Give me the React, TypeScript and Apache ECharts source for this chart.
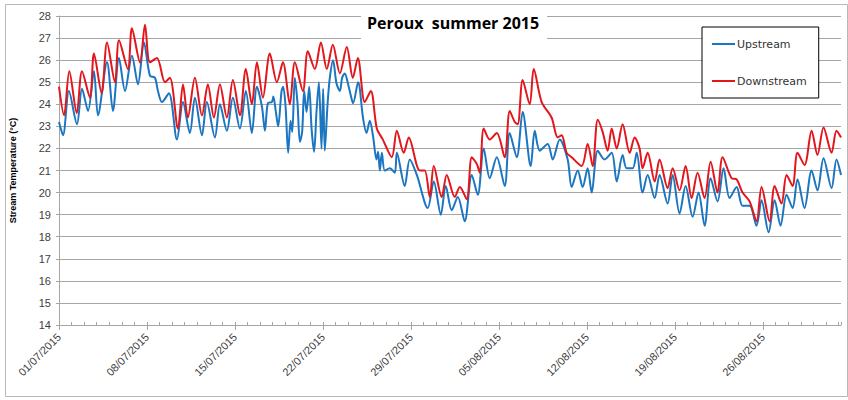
import React, { useEffect, useRef } from "react";
import * as echarts from "echarts";

// Days since 01/07/2015 00:00, temperature in °C
const upstream: [number, number][] = [
  [0.0, 23.2], [0.32, 22.6], [0.79, 24.6], [1.43, 23.1], [1.83, 24.7], [2.31, 23.7], [2.78, 25.5], [3.1, 23.5],
  [3.82, 25.9], [4.29, 23.7], [4.77, 26.1], [5.25, 24.6], [5.8, 26.2], [6.28, 24.9], [6.76, 26.8], [7.23, 25.3],
  [7.63, 25.2], [7.87, 24.6], [8.19, 24.1], [8.74, 24.5], [9.38, 22.4], [9.86, 24.1], [10.41, 22.7], [10.81, 24.3],
  [11.37, 22.6], [11.76, 24.1], [12.4, 22.5], [12.8, 24.0], [13.35, 22.8], [13.83, 24.3], [14.39, 22.9], [14.86, 24.6],
  [15.34, 22.7], [15.74, 24.8], [16.14, 23.9], [16.38, 22.8], [16.61, 24.05], [16.93, 24.1], [17.05, 24.35], [17.25, 23.65],
  [17.43, 23.0], [17.7, 24.6], [17.83, 24.8], [18.02, 23.9], [18.23, 21.8], [18.42, 23.25], [18.55, 22.75], [18.76, 25.2],
  [18.97, 24.05], [19.16, 22.3], [19.34, 22.75], [19.5, 24.6], [19.69, 23.65], [19.9, 24.8], [20.09, 22.9], [20.29, 21.85],
  [20.48, 23.65], [20.67, 25.0], [20.88, 22.0], [21.01, 24.7], [21.14, 21.9], [21.36, 24.0], [21.54, 25.2], [21.8, 26.0],
  [22.07, 24.95], [22.34, 24.6], [22.52, 25.2], [22.73, 25.4], [23.0, 24.9], [23.21, 24.4], [23.39, 24.05], [23.79, 25.0],
  [24.19, 23.35], [24.46, 22.7], [24.72, 23.25], [24.98, 22.55], [25.25, 21.5], [25.38, 21.85], [25.52, 21.0], [25.68, 21.8],
  [25.91, 21.0], [26.31, 21.1], [26.71, 20.9], [26.87, 21.8], [27.5, 20.3], [27.9, 21.5], [28.46, 20.8], [29.33, 19.3],
  [29.81, 20.5], [30.37, 19.0], [30.76, 20.3], [31.24, 19.2], [31.72, 19.8], [32.27, 18.7], [32.83, 20.8], [33.31, 19.9],
  [33.78, 22.0], [34.26, 20.65], [34.82, 21.6], [35.45, 20.3], [35.85, 22.7], [36.41, 21.6], [36.88, 23.65], [37.52, 21.2],
  [37.84, 22.8], [38.24, 21.9], [38.87, 22.2], [39.27, 21.5], [39.83, 22.4], [40.46, 21.5], [40.78, 20.25], [41.26, 21.0],
  [41.65, 20.25], [42.05, 21.1], [42.37, 20.0], [42.85, 21.9], [43.4, 21.5], [43.96, 21.8], [44.36, 20.5], [44.83, 21.7],
  [45.15, 21.1], [45.63, 21.1], [45.95, 21.8], [46.42, 20.0], [46.82, 20.8], [47.38, 19.75], [47.77, 20.8], [48.41, 19.5],
  [48.81, 20.8], [49.36, 19.05], [49.84, 20.3], [50.4, 18.9], [50.87, 20.0], [51.35, 18.5], [51.83, 20.65], [52.38, 19.6],
  [52.86, 21.1], [53.34, 19.75], [53.9, 20.25], [54.37, 19.4], [54.93, 19.4], [55.48, 18.5], [55.88, 19.65], [56.44, 18.2],
  [56.92, 19.65], [57.39, 18.5], [57.87, 19.9], [58.35, 19.3], [58.74, 20.6], [59.3, 19.3], [59.86, 21.0], [60.33, 20.1],
  [60.81, 21.55], [61.45, 20.2], [61.84, 21.5], [62.2, 20.8],
];

const downstream: [number, number][] = [
  [0.0, 24.8], [0.4, 23.5], [0.82, 25.5], [1.41, 23.6], [1.83, 25.5], [2.46, 24.3], [2.78, 26.3], [3.39, 24.5],
  [3.82, 26.8], [4.45, 25.0], [4.77, 26.9], [5.48, 25.6], [5.8, 27.45], [6.44, 25.9], [6.84, 27.6], [7.23, 25.9],
  [7.79, 26.1], [8.43, 25.0], [8.82, 25.2], [9.46, 22.9], [9.86, 24.9], [10.25, 23.4], [10.81, 25.2], [11.37, 23.5],
  [11.84, 24.9], [12.32, 23.4], [12.8, 24.9], [13.35, 23.4], [13.83, 25.1], [14.39, 23.5], [14.86, 25.6], [15.34, 24.0],
  [15.74, 25.9], [16.22, 24.3], [16.77, 26.3], [17.33, 25.0], [17.81, 25.9], [18.36, 24.0], [18.76, 25.9], [19.4, 24.6],
  [19.79, 26.4], [20.35, 25.6], [20.83, 26.8], [21.3, 25.6], [21.78, 26.7], [22.34, 25.4], [22.89, 26.6], [23.37, 25.2],
  [23.77, 26.1], [24.32, 24.1], [24.8, 24.6], [25.28, 22.9], [25.76, 22.4], [26.47, 21.6], [26.87, 22.8], [27.42, 21.8],
  [27.82, 22.5], [28.7, 21.0], [29.09, 21.0], [29.49, 19.8], [29.81, 21.2], [30.44, 19.8], [30.84, 20.8], [31.48, 19.8],
  [31.88, 20.25], [32.43, 19.7], [32.83, 21.6], [33.23, 21.3], [33.47, 20.9], [33.78, 22.9], [34.26, 22.4], [34.82, 22.7],
  [35.45, 21.6], [35.85, 23.7], [36.25, 23.2], [36.49, 23.1], [36.88, 25.1], [37.44, 24.0], [37.76, 25.6], [38.39, 24.1],
  [39.18, 23.4], [39.67, 22.5], [39.98, 22.6], [40.38, 21.8], [40.78, 21.6], [41.57, 21.2], [42.05, 22.2], [42.45, 21.2],
  [42.85, 23.3], [43.24, 22.75], [43.64, 21.9], [43.96, 22.9], [44.36, 22.0], [44.83, 23.1], [45.39, 21.8], [45.79, 22.5],
  [46.18, 22.0], [46.42, 21.1], [46.82, 21.8], [47.38, 20.5], [47.77, 21.5], [48.41, 20.2], [48.81, 21.1], [49.36, 20.1],
  [49.84, 21.2], [50.32, 19.75], [50.79, 20.9], [51.35, 19.75], [51.83, 21.4], [52.38, 20.0], [52.78, 21.6], [53.5, 20.65],
  [53.9, 20.6], [54.37, 20.0], [54.93, 19.6], [55.48, 18.7], [55.88, 20.25], [56.52, 18.7], [56.92, 20.3], [57.47, 19.5],
  [57.87, 20.8], [58.35, 20.3], [58.74, 21.8], [59.3, 21.25], [59.86, 22.8], [60.33, 21.7], [60.81, 22.95], [61.45, 21.8],
  [61.84, 22.8], [62.2, 22.5],
];

const dateTickLabels = [
  "01/07/2015", "08/07/2015", "15/07/2015", "22/07/2015", "29/07/2015",
  "05/08/2015", "12/08/2015", "19/08/2015", "26/08/2015",
];

const seriesNames = ["Upstream", "Downstream"];
const titleText = "Peroux  summer 2015";
const yAxisTitle = "Stream Temperature (°C)";

export default function App() {
  const ref = useRef<HTMLDivElement>(null);

  useEffect(() => {
    if (!ref.current) return;
    const chart = echarts.init(ref.current, null, { renderer: "svg" });
    const gray = "#a6a6a6";
    chart.setOption({
      animation: false,
      backgroundColor: "#ffffff",
      title: {
        text: titleText,
        left: 361,
        top: 9,
        padding: [6, 8, 8, 6],
        backgroundColor: "#ffffff",
        textStyle: {
          fontFamily: "Open Sans",
          fontWeight: "bold",
          fontSize: 16,
          color: "#000000",
        },
      },
      legend: {
        orient: "vertical",
        left: 702,
        top: 27,
        backgroundColor: "#ffffff",
        borderColor: "#000000",
        borderWidth: 1,
        padding: [10, 12, 10, 10],
        itemGap: 23,
        itemWidth: 23,
        itemHeight: 2,
        icon: "rect",
        data: seriesNames,
        textStyle: {
          fontFamily: "DejaVu Sans",
          fontSize: 11,
          lineHeight: 14,
          color: "#333333",
          padding: [0, 0, 0, -3],
        },
      },
      graphic: [
        {
          type: "rect",
          silent: true,
          z: -10,
          shape: { x: 5.5, y: 4.5, width: 842, height: 392 },
          style: { fill: "none", stroke: "#b8b8b8", lineWidth: 1 },
        },
      ],
      grid: { left: 59, right: 7, top: 16, bottom: 75, containLabel: false },
      xAxis: [
        {
          type: "value",
          min: 0,
          max: 62.2,
          interval: 7,
          position: "bottom",
          axisLine: { show: true, lineStyle: { color: gray } },
          axisTick: { show: true, length: 5, lineStyle: { color: gray } },
          splitLine: { show: false },
          axisLabel: {
            rotate: 45,
            margin: 10,
            fontFamily: "Liberation Sans",
            fontSize: 11,
            color: "#404040",
            showMaxLabel: false,
            formatter: (v: number) => {
              const i = Math.round(v / 7);
              return Math.abs(v - i * 7) < 1e-6 && dateTickLabels[i] ? dateTickLabels[i] : "";
            },
          },
        },
        {
          type: "value",
          min: 0,
          max: 62.2,
          interval: 1,
          position: "bottom",
          axisLine: { show: false },
          axisTick: { show: true, inside: true, length: 3, lineStyle: { color: gray } },
          axisLabel: { show: false },
          splitLine: { show: false },
        },
      ],
      yAxis: {
        type: "value",
        min: 14,
        max: 28,
        interval: 1,
        name: yAxisTitle,
        nameLocation: "middle",
        nameGap: 42,
        nameRotate: 90,
        nameTextStyle: {
          fontFamily: "Liberation Sans",
          fontWeight: "bold",
          fontSize: 9,
          color: "#000000",
        },
        axisLine: { show: true, lineStyle: { color: gray } },
        axisTick: { show: true, length: 3, lineStyle: { color: gray } },
        splitLine: { show: true, lineStyle: { color: gray, width: 1 } },
        axisLabel: {
          margin: 8,
          fontFamily: "Liberation Sans",
          fontSize: 11,
          color: "#404040",
        },
      },
      series: [
        {
          name: seriesNames[0],
          type: "line",
          xAxisIndex: 0,
          data: upstream,
          showSymbol: false,
          symbol: "none",
          smooth: 0.3,
          lineStyle: { color: "#1b75c0", width: 2 },
          itemStyle: { color: "#1b75c0" },
        },
        {
          name: seriesNames[1],
          type: "line",
          xAxisIndex: 0,
          data: downstream,
          showSymbol: false,
          symbol: "none",
          smooth: 0.3,
          lineStyle: { color: "#e3161c", width: 2 },
          itemStyle: { color: "#e3161c" },
        },
      ],
    });
    return () => chart.dispose();
  }, []);

  return (
    <div
      ref={ref}
      style={{ position: "absolute", left: 0, top: 0, width: 848, height: 400 }}
    />
  );
}
